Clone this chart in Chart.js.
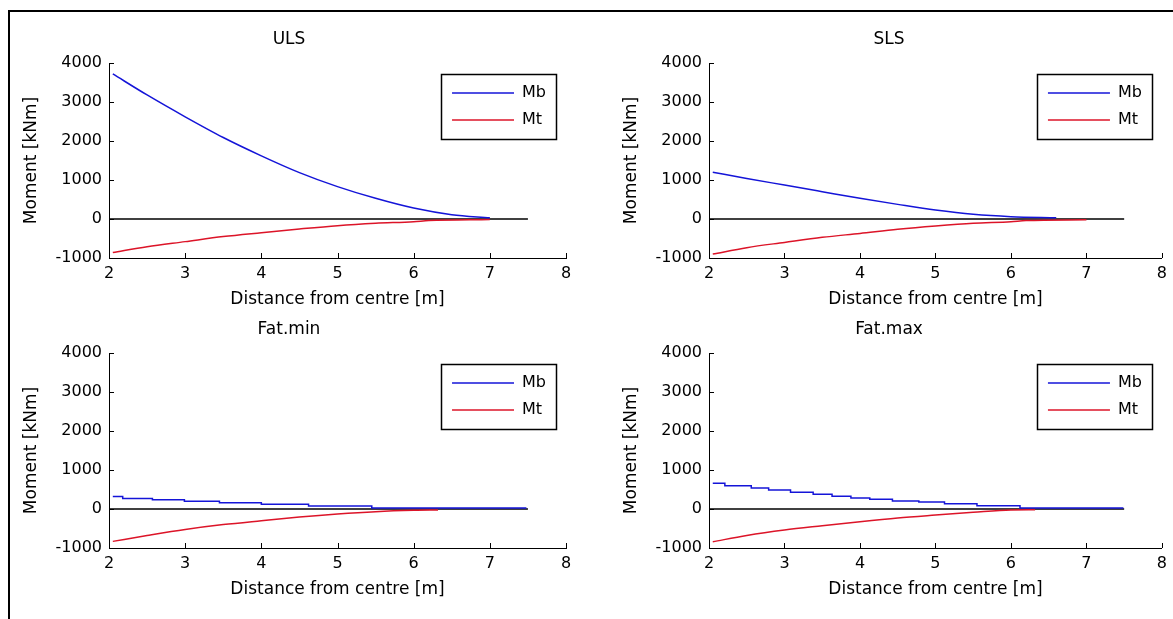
<!DOCTYPE html>
<html>
<head>
<meta charset="utf-8">
<script src="https://cdn.jsdelivr.net/npm/chart.js@4/dist/chart.umd.min.js"></script>
<style>
    body { margin: 0; background: #fff; width: 1173px; height: 619px; overflow: hidden; position: relative; }
    #frame { position: absolute; left: 8px; top: 10px; width: 1300px; height: 800px; border: 2px solid #000; }
    canvas { position: absolute; }
</style>
</head>
<body>
<div id="frame"></div>
<canvas id="uls" width="580" height="300" style="left:12px;top:12px"></canvas>
<canvas id="sls" width="561" height="300" style="left:612px;top:12px"></canvas>
<canvas id="fatmin" width="580" height="300" style="left:12px;top:302px"></canvas>
<canvas id="fatmax" width="561" height="300" style="left:612px;top:302px"></canvas>
<script>
// x = distance from centre [m], y = moment [kNm]
const zeroX = [2, 7.5];
const zeroY = [0, 0];

const ulsMbX = [2.05, 2.5, 3, 3.5, 4, 4.5, 5, 5.5, 6, 6.5, 7];
const ulsMbY = [3720, 3180, 2620, 2090, 1620, 1190, 830, 530, 280, 110, 30];
const ulsMtX = [2.05, 2.5, 3, 3.5, 4, 4.5, 5, 5.5, 6, 6.2, 7];
const ulsMtY = [-860, -710, -580, -450, -350, -255, -170, -110, -70, -40, -10];

const slsMbX = [2.05, 2.5, 3, 3.5, 4, 4.5, 5, 5.5, 6, 6.6];
const slsMbY = [1200, 1040, 870, 700, 530, 375, 230, 120, 60, 35];
const slsMtX = [2.05, 2.5, 3, 3.5, 4, 4.5, 5, 5.5, 6, 6.2, 7];
const slsMtY = [-900, -735, -600, -470, -370, -265, -180, -110, -70, -40, -20];

const fatMinMbX = [2.05, 2.18, 2.57, 2.99, 3.45, 4.0, 4.62, 5.45, 7.48];
const fatMinMbY = [320, 270, 237, 200, 160, 120, 76, 25, 25];
const fatMinMtX = [2.05, 2.5, 3, 3.5, 4, 4.5, 5, 5.5, 6, 6.32];
const fatMinMtY = [-830, -680, -525, -400, -300, -205, -127, -68, -34, -25];

const fatMaxMbX = [2.05, 2.21, 2.56, 2.79, 3.08, 3.38, 3.63, 3.88, 4.13, 4.43, 4.78, 5.12, 5.55, 6.12, 7.49];
const fatMaxMbY = [658, 598, 538, 487, 427, 376, 325, 282, 248, 205, 180, 137, 85, 26, 26];
const fatMaxMtX = [2.05, 2.5, 3, 3.5, 4, 4.5, 5, 5.5, 6, 6.32];
const fatMaxMtY = [-840, -680, -540, -430, -325, -230, -155, -85, -25, -20];

const seriesNames = ['Mb', 'Mt'];
const xTicks = [2, 3, 4, 5, 6, 7, 8];
const yTicks = [-1000, 0, 1000, 2000, 3000, 4000];

Chart.defaults.font.family = 'DejaVu Sans';
Chart.defaults.color = '#000';

const toPoints = (xs, ys) => xs.map((x, i) => ({ x: x, y: ys[i] }));

// matlab style: ticks inside, legend box top right
const matlabLook = {
    id: 'matlabLook',
    afterLayout(chart) {
        const lg = chart.legend;
        const area = chart.chartArea;
        lg.left = area.right - 10 - lg.width;
        lg.right = lg.left + lg.width;
        lg.top = area.top + 11;
        lg.bottom = lg.top + lg.height;
    },
    afterDraw(chart) {
        const ctx = chart.ctx;
        const xs = chart.scales.x;
        const ys = chart.scales.y;
        ctx.save();
        ctx.strokeStyle = '#000';
        ctx.lineWidth = 1;
        ctx.beginPath();
        xs.ticks.forEach((t) => {
            const px = Math.round(xs.getPixelForValue(t.value)) + 0.5;
            ctx.moveTo(px, ys.bottom);
            ctx.lineTo(px, ys.bottom - 5);
        });
        ys.ticks.forEach((t) => {
            const py = Math.round(ys.getPixelForValue(t.value)) + 0.5;
            ctx.moveTo(xs.left, py);
            ctx.lineTo(xs.left + 5, py);
        });
        ctx.stroke();
        const lg = chart.legend;
        ctx.lineWidth = 1.5;
        ctx.strokeRect(Math.round(lg.left) + 0.5, Math.round(lg.top) + 0.5, Math.round(lg.width), 65);
        ctx.restore();
    },
};

const makeChart = (id, title, mbX, mbY, mtX, mtY, stepped, padRight) => {
    new Chart(document.getElementById(id), {
        type: 'line',
        data: {
            datasets: [
                {
                    label: seriesNames[0],
                    data: toPoints(mbX, mbY),
                    borderColor: '#1414d8',
                    borderWidth: 1.5,
                    pointRadius: 0,
                    stepped: stepped,
                    cubicInterpolationMode: 'monotone',
                },
                {
                    label: seriesNames[1],
                    data: toPoints(mtX, mtY),
                    borderColor: '#dc1428',
                    borderWidth: 1.5,
                    pointRadius: 0,
                    cubicInterpolationMode: 'monotone',
                },
                {
                    label: 'zero',
                    data: toPoints(zeroX, zeroY),
                    borderColor: '#000',
                    borderWidth: 1.5,
                    pointRadius: 0,
                },
            ],
        },
        options: {
            responsive: false,
            animation: false,
            layout: { padding: { left: 0, top: 0, right: padRight, bottom: 0 } },
            plugins: {
                title: {
                    display: true,
                    text: title,
                    font: { size: 17, weight: 'normal' },
                    padding: { top: 17.8, bottom: 12.8 },
                },
                legend: {
                    position: 'chartArea',
                    align: 'start',
                    labels: {
                        usePointStyle: true,
                        pointStyle: 'line',
                        pointStyleWidth: 62,
                        padding: 11,
                        font: { size: 16 },
                        filter: (item) => item.datasetIndex < 2,
                    },
                },
                tooltip: { enabled: false },
            },
            scales: {
                x: {
                    type: 'linear',
                    min: 2,
                    max: 8,
                    afterBuildTicks: (s) => { s.ticks = xTicks.map((v) => ({ value: v })); },
                    ticks: { font: { size: 16 }, padding: 6, maxRotation: 0, callback: (v) => String(v) },
                    grid: { display: false, drawTicks: false },
                    border: { display: true, color: '#000', width: 1 },
                    title: {
                        display: true,
                        text: 'Distance from centre [m]',
                        font: { size: 17 },
                        padding: { top: 0, bottom: 2 },
                    },
                    afterFit: (s) => { s.height = 54; },
                },
                y: {
                    min: -1000,
                    max: 4000,
                    afterBuildTicks: (s) => { s.ticks = yTicks.map((v) => ({ value: v })); },
                    ticks: { font: { size: 16 }, padding: 7, callback: (v) => String(v) },
                    grid: { display: false, drawTicks: false },
                    border: { display: true, color: '#000', width: 1 },
                    title: {
                        display: true,
                        text: 'Moment [kNm]',
                        font: { size: 17 },
                        padding: { top: 9, bottom: 0 },
                    },
                    afterFit: (s) => { s.width = 97; },
                },
            },
        },
        plugins: [matlabLook],
    });
};

makeChart('uls', 'ULS', ulsMbX, ulsMbY, ulsMtX, ulsMtY, false, 26);
makeChart('sls', 'SLS', slsMbX, slsMbY, slsMtX, slsMtY, false, 7);
makeChart('fatmin', 'Fat.min', fatMinMbX, fatMinMbY, fatMinMtX, fatMinMtY, true, 26);
makeChart('fatmax', 'Fat.max', fatMaxMbX, fatMaxMbY, fatMaxMtX, fatMaxMtY, true, 7);
</script>
</body>
</html>
